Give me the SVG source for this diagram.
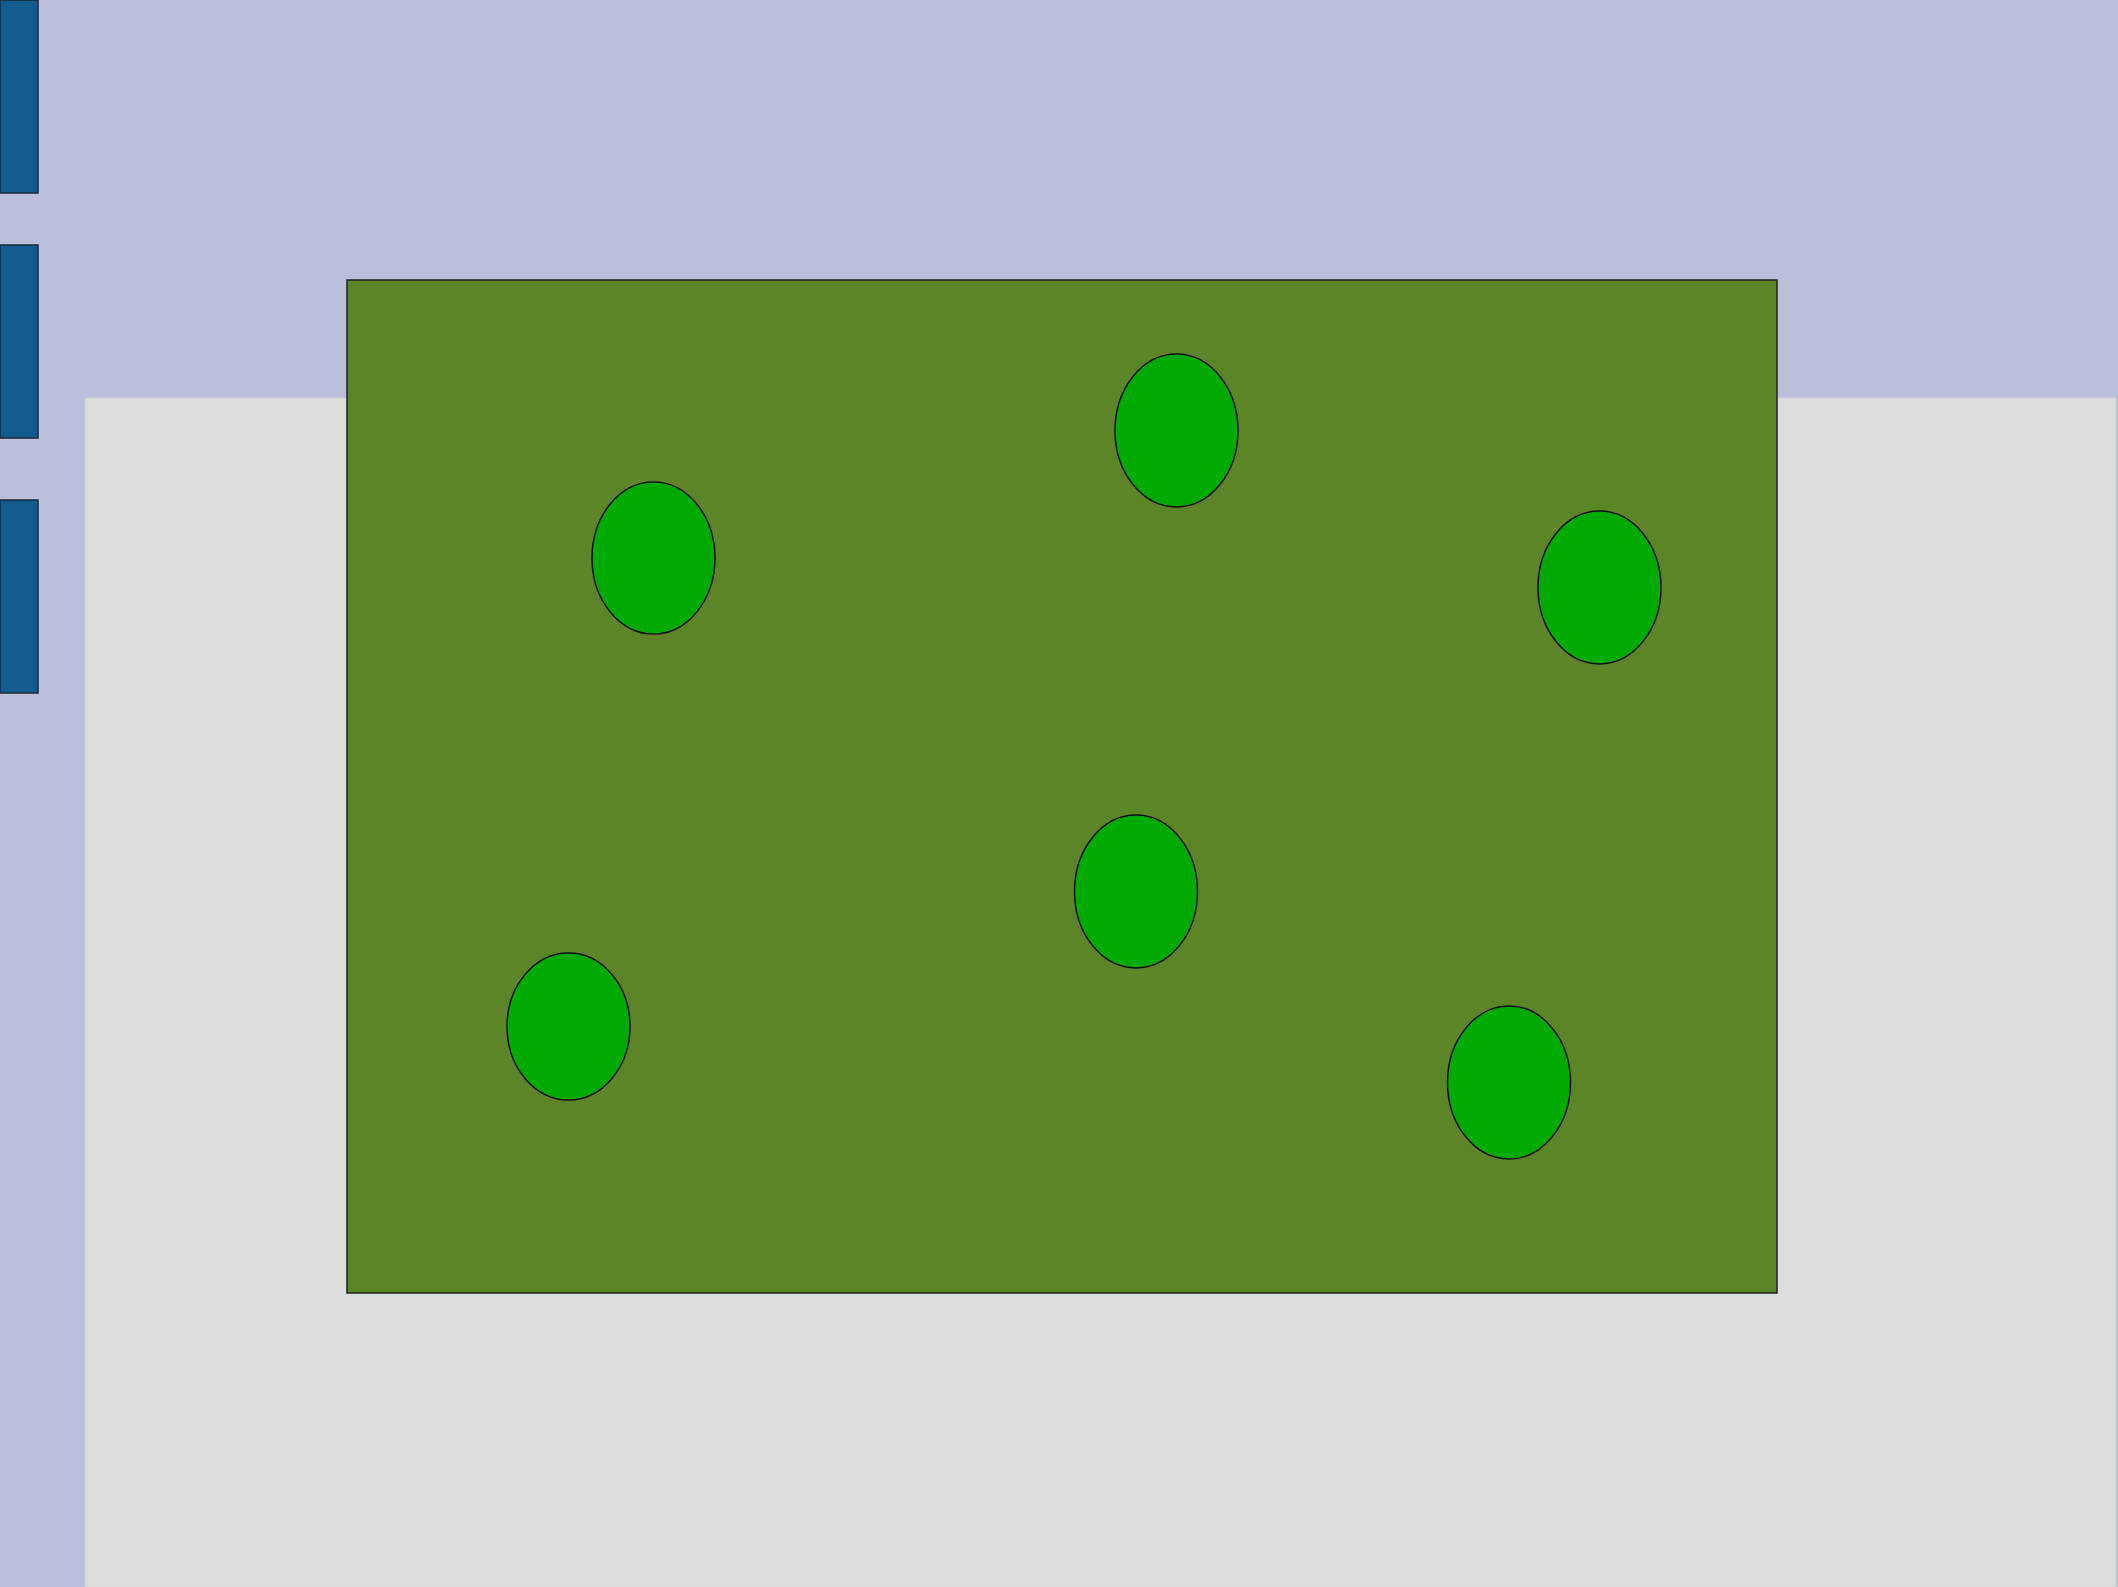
<svg xmlns="http://www.w3.org/2000/svg" width="2118" height="1587" viewBox="0 0 2118 1587">
<style>
.bar{fill:#135b8f;stroke:#1a2a3a;stroke-width:1.5}
.dot{fill:#00aa00;stroke:#111;stroke-width:1.5}
</style>
<rect x="0" y="0" width="2118" height="1587" fill="#bbbfdb"/>
<rect x="85" y="398" width="2031" height="1189" fill="#dddddd" stroke="#d0d0d0" stroke-width="1"/>
<g id="bars">
<rect class="bar" x="0" y="0" width="38" height="193"/>
<rect class="bar" x="0" y="245" width="38" height="193"/>
<rect class="bar" x="0" y="500" width="38" height="193"/>
</g>
<g id="field"><rect x="347" y="280" width="1430" height="1013" fill="#5c8528" stroke="#222" stroke-width="1.5"/></g>
<g id="nodes">
<g id="n1"><ellipse class="dot" cx="653.5" cy="558" rx="61.5" ry="76"/></g>
<g id="n2"><ellipse class="dot" cx="1176.5" cy="430.5" rx="61.5" ry="76.5"/></g>
<g id="n3"><ellipse class="dot" cx="1599.5" cy="587.5" rx="61.5" ry="76.5"/></g>
<g id="n4"><ellipse class="dot" cx="1136" cy="891.5" rx="61.5" ry="76.5"/></g>
<g id="n5"><ellipse class="dot" cx="568.5" cy="1026.5" rx="61.5" ry="73.5"/></g>
<g id="n6"><ellipse class="dot" cx="1509" cy="1082.5" rx="61.5" ry="76.5"/></g>
</g>
<g id="connectors"/>
</svg>
